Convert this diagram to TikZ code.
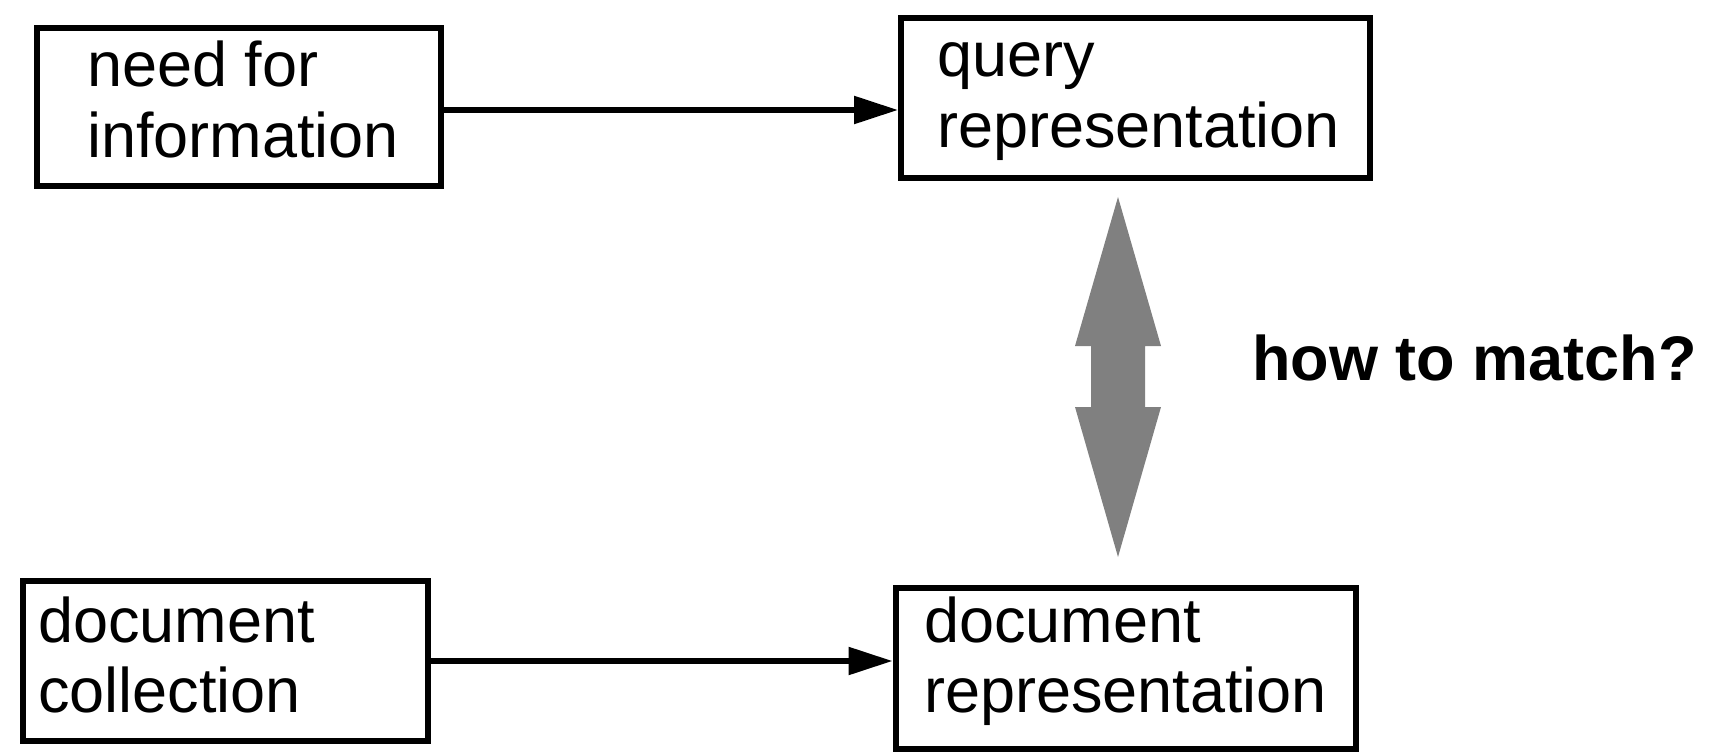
\documentclass[tikz,border=0pt]{standalone}
\usepackage{fontspec}
\setmainfont{Liberation Sans}
\usetikzlibrary{arrows.meta}
\definecolor{matchgray}{RGB}{128,128,128}
\tikzset{
  stagebox/.style={draw=black, line width=6pt, inner sep=0pt},
  label/.style={inner sep=0pt, anchor=base west, font=\fontsize{63}{70}\selectfont},
  flow/.style={line width=5.5pt, -{Triangle[length=44pt,width=27pt]}},
}
\begin{document}
\begin{tikzpicture}[x=1pt, y=-1pt]
  \useasboundingbox (0,0) rectangle (1719,754);

  % the four boxes
  \node[stagebox, minimum width=404pt, minimum height=158pt, anchor=north west] (need)  at (34,25)  {};
  \node[stagebox, minimum width=469pt, minimum height=160pt, anchor=north west] (query) at (898,15) {};
  \node[stagebox, minimum width=405pt, minimum height=160.5pt, anchor=north west] (coll) at (20,577.5) {};
  \node[stagebox, minimum width=460pt, minimum height=161pt, anchor=north west] (docrep) at (892.5,584.5) {};

  % box texts
  \node[label] (needA)  at (87,87)   {need for};
  \node[label] (needB)  at (87,158)  {information};
  \node[label] (queryA) at (937,77)  {query};
  \node[label] (queryB) at (937,148) {representation};
  \node[label] (collA)  at (38,642)  {document};
  \node[label] (collB)  at (38,712)  {collection};
  \node[label] (docA)   at (924,642) {document};
  \node[label] (docB)   at (924,712) {representation};

  % flows into the representations
  \draw[flow] (need.east |- 0,110) -- (query.west |- 0,110);
  \draw[flow] (coll.east |- 0,661) -- (docrep.west |- 0,661);

  % matching arrow between the two representations
  \coordinate (mtop) at (1118,197);
  \coordinate (mbot) at (1118,557);
  \fill[matchgray] (mtop) -- ++(43,149) -- ++(-16,0) -- ++(0,61) -- ++(16,0)
    -- (mbot) -- ++(-43,-150) -- ++(16,0) -- ++(0,-61) -- ++(-16,0) -- cycle;

  \node[inner sep=0pt, anchor=base west, font=\fontsize{63}{70}\selectfont\bfseries] (how) at (1252,380) {how to match?};
\end{tikzpicture}
\end{document}
